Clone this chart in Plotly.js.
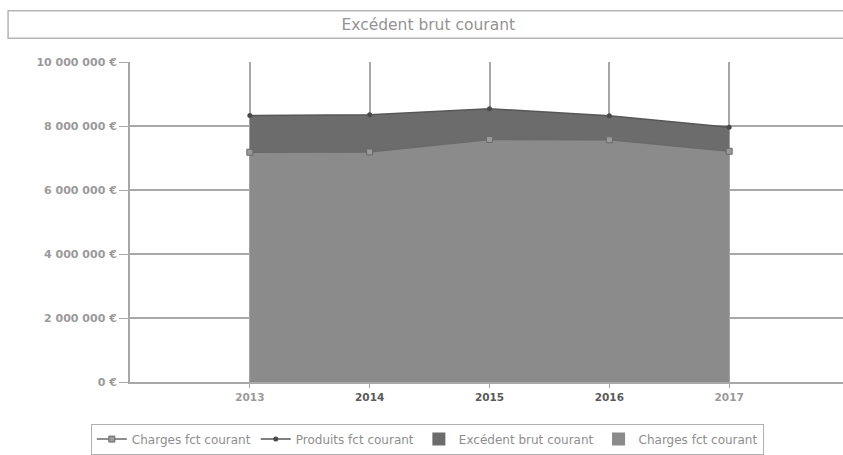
<!DOCTYPE html>
<html>
<head>
<meta charset="utf-8">
<script src="https://cdn.plot.ly/plotly-3.0.1.min.js"></script>
<style>
  html, body { margin: 0; padding: 0; background: #ffffff; }
  #chart { width: 843px; height: 455px; }
</style>
</head>
<body>
<div id="chart"></div>
<script>
// Années et montants (en euros)
const years = [2013, 2014, 2015, 2016, 2017];
const produitsFct = [8330000, 8350000, 8540000, 8320000, 7960000];
const chargesFct = [7180000, 7190000, 7580000, 7570000, 7210000];

// Graduations de l'axe des montants
const yTickVals = [0, 2000000, 4000000, 6000000, 8000000, 10000000];
const yTickText = ['0 €', '2 000 000 €', '4 000 000 €', '6 000 000 €', '8 000 000 €', '10 000 000 €'];

// L'excédent brut courant est l'écart entre produits et charges
const excedent = produitsFct.map((p, i) => p - chargesFct[i]);

const gridColor = '#a8a8a8';
const chargesFill = '#8b8b8b';
const excedentFill = '#6c6c6c';

// Années intermédiaires en gris foncé, extrémités en gris clair
const xTickText = years.map((yr, i) => {
  const c = (i === 0 || i === years.length - 1) ? '#9a9a9a' : '#5a5a5a';
  return '<span style="color:' + c + '">' + yr + '</span>';
});

const traces = [
  {
    name: 'Charges fct courant',
    x: years, y: chargesFct,
    type: 'scatter', mode: 'none',
    stackgroup: 'flux',
    fillcolor: chargesFill,
    showlegend: false,
    hoverinfo: 'skip'
  },
  {
    name: 'Excédent brut courant',
    x: years, y: excedent,
    type: 'scatter', mode: 'none',
    stackgroup: 'flux',
    fillcolor: excedentFill,
    showlegend: false,
    hoverinfo: 'skip'
  },
  {
    name: 'Charges fct courant',
    x: years, y: chargesFct,
    type: 'scatter', mode: 'lines+markers',
    line: { color: '#6a6a6a', width: 1.5 },
    marker: { symbol: 'square', size: 6, color: '#9a9a9a', line: { color: '#6a6a6a', width: 1 } },
    legendrank: 1
  },
  {
    name: 'Produits fct courant',
    x: years, y: produitsFct,
    type: 'scatter', mode: 'lines+markers',
    line: { color: '#575757', width: 1.5 },
    marker: { symbol: 'circle', size: 5, color: '#4a4a4a' },
    legendrank: 2
  },
  // Pastilles de légende pour les deux aires empilées
  {
    name: 'Excédent brut courant',
    x: [null], y: [null],
    type: 'scatter', mode: 'markers',
    marker: { symbol: 'square', size: 13, color: excedentFill },
    legendrank: 3,
    hoverinfo: 'skip'
  },
  {
    name: 'Charges fct courant',
    x: [null], y: [null],
    type: 'scatter', mode: 'markers',
    marker: { symbol: 'square', size: 13, color: chargesFill },
    legendrank: 4,
    hoverinfo: 'skip'
  }
];

const layout = {
  width: 843, height: 455,
  margin: { l: 130, r: 0, t: 62, b: 70 },
  paper_bgcolor: '#ffffff',
  plot_bgcolor: '#ffffff',
  font: { family: 'DejaVu Sans, sans-serif', color: '#959595' },
  title: {
    text: 'Excédent brut courant',
    font: { family: 'DejaVu Sans, sans-serif', size: 15.5, color: '#939393' },
    x: 0.508, xanchor: 'center',
    y: 0.945, yanchor: 'middle'
  },
  xaxis: {
    range: [2012, 2017.95],
    tickvals: years,
    ticktext: xTickText,
    showgrid: true, gridcolor: gridColor, gridwidth: 2,
    zeroline: false,
    showline: true, linecolor: gridColor, linewidth: 2,
    ticks: 'outside', ticklen: 4, tickcolor: gridColor,
    tickfont: { family: 'DejaVu Sans, sans-serif', size: 10.5, color: '#8e8e8e', weight: 'bold' },
    fixedrange: true
  },
  yaxis: {
    range: [0, 10000000],
    tickvals: yTickVals,
    ticktext: yTickText,
    showgrid: true, gridcolor: gridColor, gridwidth: 2,
    zeroline: false,
    showline: true, linecolor: gridColor, linewidth: 2,
    ticks: 'outside', ticklen: 9, tickcolor: gridColor,
    tickfont: { family: 'DejaVu Sans, sans-serif', size: 11, color: '#9a9a9a', weight: 'bold' },
    fixedrange: true
  },
  showlegend: true,
  legend: {
    orientation: 'h',
    x: 0.417, xanchor: 'center',
    y: -0.13, yanchor: 'top',
    bordercolor: '#b0b0b0', borderwidth: 1,
    bgcolor: '#ffffff',
    font: { family: 'DejaVu Sans, sans-serif', size: 12, color: '#8e8e8e' },
    traceorder: 'normal',
    itemwidth: 30
  },
  shapes: [
    {
      type: 'rect', xref: 'paper', yref: 'paper',
      x0: -0.171, x1: 1.01, y0: 1.074, y1: 1.16,
      line: { color: '#b5b5b5', width: 1.5 },
      fillcolor: 'rgba(0,0,0,0)', layer: 'below'
    }
  ]
};

Plotly.newPlot('chart', traces, layout, { displayModeBar: false, staticPlot: true });
</script>
</body>
</html>
